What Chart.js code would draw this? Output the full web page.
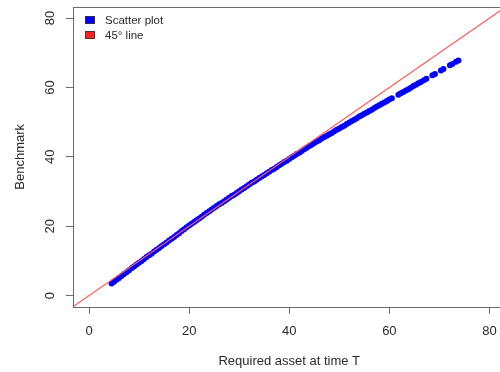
<!DOCTYPE html>
<html>
<head>
<meta charset="utf-8">
<script src="https://cdn.jsdelivr.net/npm/chart.js@4"></script>
<style>
  html, body { margin: 0; padding: 0; background: #fff; overflow: hidden; width: 500px; height: 372px; }
  #wrap { position: absolute; left: 0; top: 0; width: 512px; height: 372px; }
</style>
</head>
<body>
<div id="wrap"><canvas id="c" width="512" height="372"></canvas></div>
<script>
// ---- data ----
const scatterX = [
  4.5, 5, 5.5, 6, 6.5, 7, 7.5, 8, 8.5, 9, 9.5, 10, 10.5, 11, 11.5, 12, 12.5, 13, 13.5, 14, 14.5, 15,
  15.5, 16, 16.5, 17, 17.5, 18, 18.5, 19, 19.5, 20, 20.5, 21, 21.5, 22, 22.5, 23, 23.5, 24, 24.5, 25,
  25.5, 26, 26.5, 27, 27.5, 28, 28.5, 29, 29.5, 30, 30.5, 31, 31.5, 32, 32.5, 33, 33.5, 34, 34.5, 35,
  35.5, 36, 36.5, 37, 37.5, 38, 38.5, 39, 39.5, 40, 40.5, 41, 41.5, 42, 42.5, 43, 43.5, 44, 44.5, 45,
  45.5, 46, 46.5, 47, 47.5, 48, 48.5, 49, 49.5, 50, 50.5, 51, 51.5, 52, 52.5, 53, 53.5, 54, 54.5, 55,
  55.5, 56, 56.5, 57, 57.5, 58, 58.5, 59, 59.5, 60, 60.5,
  61.8, 62.3, 62.8, 63.3, 63.8, 64.3, 64.8, 65.3, 65.8, 66.3,
  66.9, 67.4, 68.6, 69.1, 70.3, 70.8, 72.1, 72.6, 73.3, 73.8
];
const scatterY = [
  3.5, 4.0, 4.6, 5.1, 5.65, 6.2, 6.75, 7.3, 7.85, 8.4, 8.95, 9.5, 10.0, 10.55, 11.1, 11.6, 12.1, 12.7, 13.2, 13.7, 14.3, 14.8,
  15.3, 15.9, 16.4, 16.9, 17.5, 18.0, 18.6, 19.1, 19.7, 20.2, 20.7, 21.2, 21.7, 22.2, 22.7, 23.3, 23.8, 24.3, 24.8, 25.3,
  25.8, 26.3, 26.7, 27.2, 27.7, 28.2, 28.7, 29.1, 29.6, 30.1, 30.6, 31.0, 31.5, 32.0, 32.5, 32.9, 33.4, 33.9, 34.3, 34.8,
  35.3, 35.7, 36.2, 36.6, 37.1, 37.6, 38.0, 38.5, 38.9, 39.4, 39.9, 40.3, 40.8, 41.2, 41.7, 42.2, 42.6, 43.1, 43.5, 44.0,
  44.4, 44.8, 45.3, 45.7, 46.1, 46.5, 46.9, 47.4, 47.8, 48.2, 48.6, 49.0, 49.5, 49.9, 50.3, 50.7, 51.1, 51.6, 52.0, 52.4,
  52.8, 53.2, 53.6, 54.1, 54.5, 54.9, 55.3, 55.7, 56.1, 56.5, 56.9,
  57.9, 58.3, 58.7, 59.1, 59.5, 59.9, 60.4, 60.8, 61.2, 61.6,
  62.1, 62.5, 63.5, 63.9, 64.9, 65.3, 66.4, 66.8, 67.4, 67.8
];
const lineX = [-3.2, 83.2];
const lineY = [-3.2, 83.2];
const axisMin = -3.2;
const axisMax = 83.2;
const tickStep = 20;
const seriesNames = ['Scatter plot', '45\u00B0 line'];
const xTitle = 'Required asset at time T';
const yTitle = 'Benchmark';

const FONT = '"Liberation Sans", Arial, Helvetica, sans-serif';
const BOX = '#6a6a6a';
const TXT = '#2a2a2a';

const scatterPts = scatterX.map((x, i) => ({ x: x, y: scatterY[i] }));
const linePts = lineX.map((x, i) => ({ x: x, y: lineY[i] }));

const rPlot = {
  id: 'rPlot',
  afterDatasetsDraw(chart) {
    const ctx = chart.ctx;
    const a = chart.chartArea;
    ctx.save();
    // box
    ctx.strokeStyle = BOX;
    ctx.lineWidth = 1;
    ctx.strokeRect(Math.round(a.left) + 0.5, Math.round(a.top) + 0.5,
                   Math.round(a.right - a.left), Math.round(a.bottom - a.top));
    // rotated y tick labels
    const ys = chart.scales.y;
    ctx.fillStyle = TXT;
    ctx.font = '13px ' + FONT;
    ctx.textAlign = 'center';
    ctx.textBaseline = 'middle';
    ys.ticks.forEach(t => {
      const py = ys.getPixelForValue(t.value);
      ctx.save();
      ctx.translate(50, py);
      ctx.rotate(-Math.PI / 2);
      ctx.fillText(String(t.value), 0, 0);
      ctx.restore();
    });
    // legend
    const lx = a.left + 12, ly0 = a.top + 13, gap = 15;
    const fills = ['#0000ff', '#ff2020'];
    ctx.font = '11.5px ' + FONT;
    ctx.textAlign = 'left';
    ctx.textBaseline = 'middle';
    seriesNames.forEach((name, i) => {
      const cy = ly0 + i * gap;
      ctx.fillStyle = fills[i];
      ctx.fillRect(lx, cy - 4, 10, 8);
      ctx.strokeStyle = '#333';
      ctx.lineWidth = 0.8;
      ctx.strokeRect(lx + 0.5, cy - 3.5, 9, 7);
      ctx.fillStyle = TXT;
      ctx.fillText(name, lx + 20, cy + 0.5);
    });
    ctx.restore();
  }
};

new Chart(document.getElementById('c'), {
  type: 'scatter',
  data: {
    datasets: [
      {
        label: seriesNames[0],
        data: scatterPts,
        backgroundColor: '#0000ff',
        borderColor: '#0000ff',
        pointRadius: 3,
        pointBorderWidth: 0,
        order: 1
      },
      {
        label: seriesNames[1],
        type: 'line',
        data: linePts,
        borderColor: '#ff5a5a',
        borderWidth: 1.2,
        pointRadius: 0,
        fill: false,
        order: 0
      }
    ]
  },
  options: {
    responsive: false,
    animation: false,
    devicePixelRatio: 1,
    layout: { padding: { left: 0, top: 7, right: 6.5, bottom: 0 } },
    plugins: { legend: { display: false }, tooltip: { enabled: false } },
    scales: {
      x: {
        type: 'linear',
        min: axisMin, max: axisMax,
        afterFit(s) { s.height = 65.3; },
        border: { display: false },
        grid: { display: true, drawOnChartArea: false, drawTicks: true, tickLength: 7, color: BOX },
        ticks: { stepSize: tickStep, includeBounds: false, padding: 9.5, color: TXT,
                 font: { family: FONT, size: 13 }, maxRotation: 0 },
        title: { display: true, text: xTitle, color: TXT, font: { family: FONT, size: 13 },
                 padding: { top: 0, bottom: 2.5 } }
      },
      y: {
        type: 'linear',
        min: axisMin, max: axisMax,
        afterFit(s) { s.width = 73; },
        border: { display: false },
        grid: { display: true, drawOnChartArea: false, drawTicks: true, tickLength: 7, color: BOX },
        ticks: { stepSize: tickStep, includeBounds: false, display: false },
        title: { display: true, text: yTitle, color: TXT, font: { family: FONT, size: 13 },
                 padding: { top: 12.2, bottom: 0 } }
      }
    }
  },
  plugins: [rPlot]
});
</script>
</body>
</html>
